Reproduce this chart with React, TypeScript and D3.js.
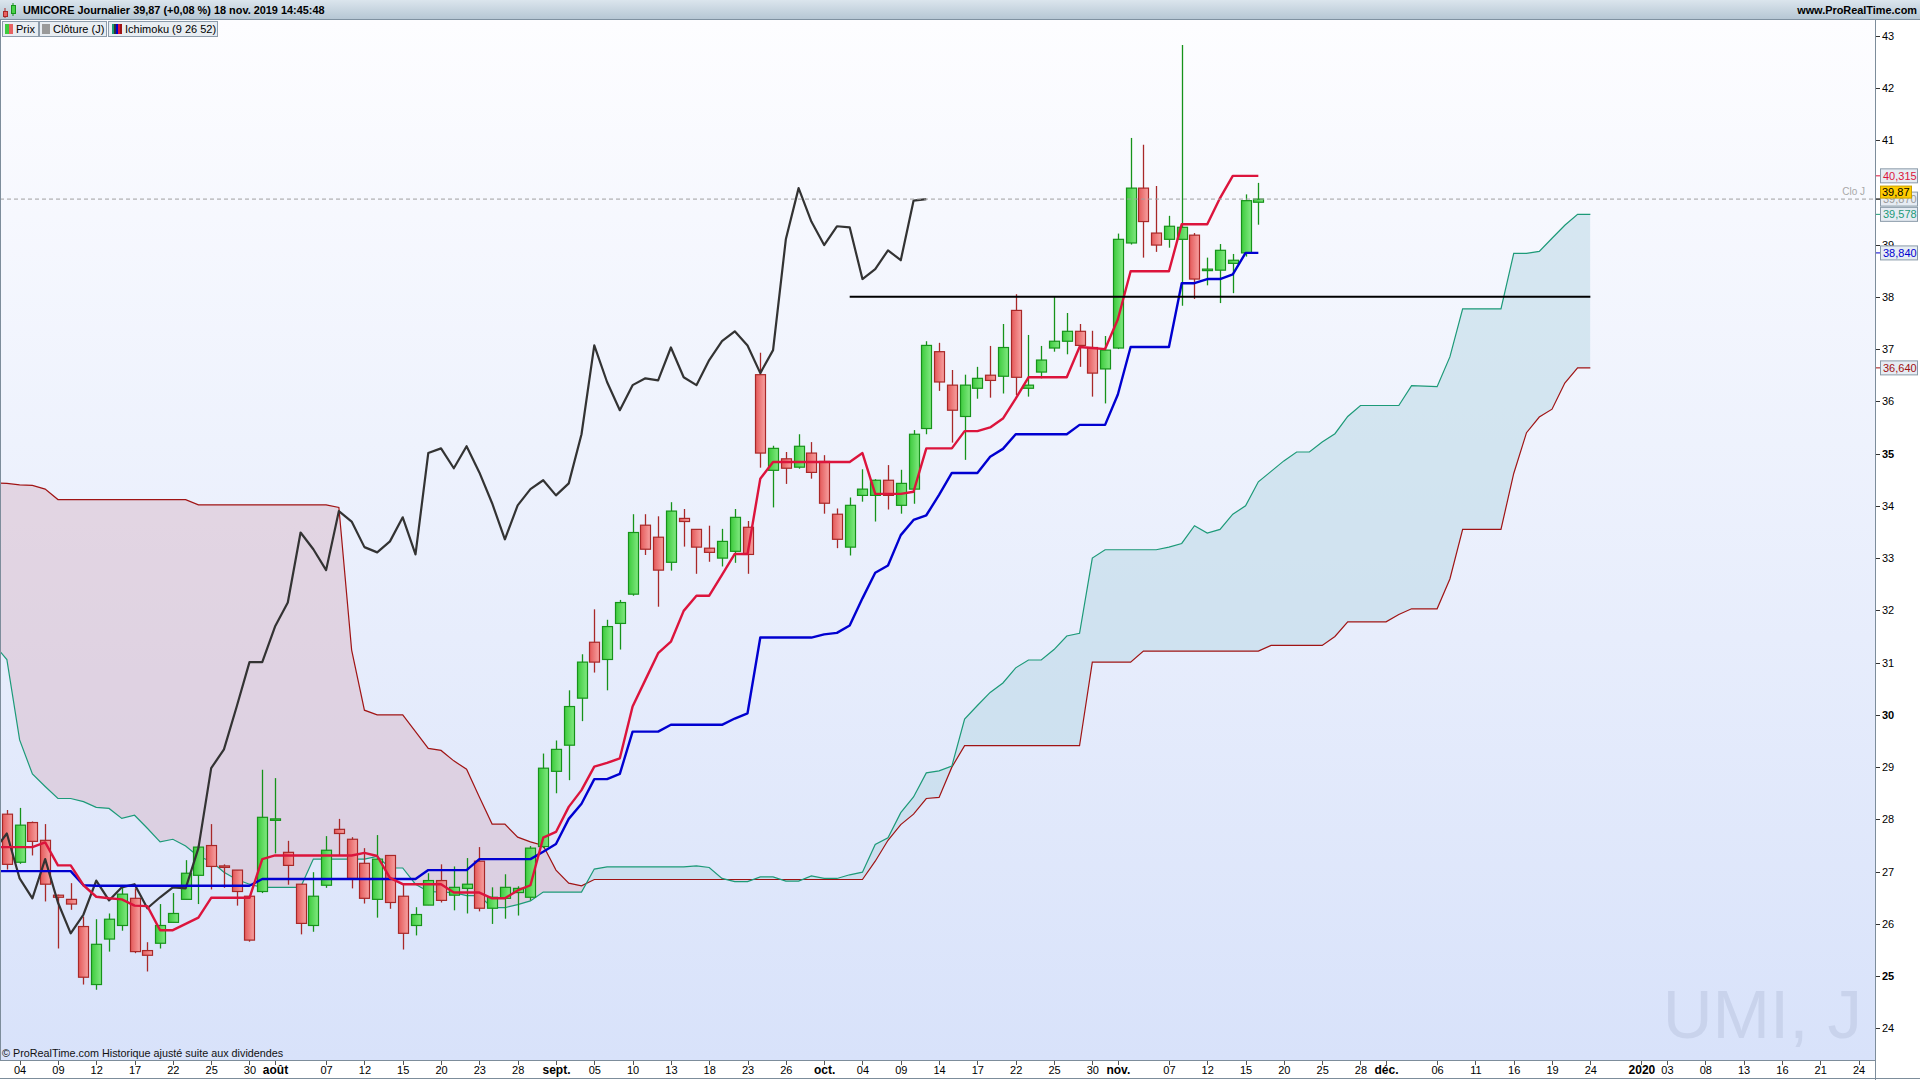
import * as d3 from 'd3';
import React from 'react';

// Cours journaliers UMICORE, du 3 juil. 2019 (barre 0) au 18 nov. 2019 (barre 98)
const opens = [
  28.1, 27.18, 27.94, 27.6, 26.55, 26.47, 25.95, 24.84, 25.71, 25.97,
  26.49, 25.49, 25.63, 26.03, 26.47, 26.93, 27.5, 27.11, 27.03, 26.53,
  26.62, 27.99, 27.37, 26.76, 25.97, 26.74, 27.81, 27.62, 27.16, 26.47,
  27.31, 26.53, 25.97, 26.36, 26.83, 26.55, 26.68, 27.2, 26.3, 26.49,
  26.6, 26.51, 27.48, 28.92, 29.42, 30.32, 31.39, 31.06, 31.75, 32.31,
  33.63, 33.4, 32.92, 33.76, 33.55, 33.19, 33.0, 33.13, 33.59, 36.51,
  34.68, 34.9, 34.74, 35.01, 34.85, 33.84, 33.21, 34.2, 34.2, 34.49,
  34.01, 34.32, 35.48, 36.95, 36.31, 35.71, 36.25, 36.5, 36.48, 37.74,
  36.25, 36.56, 37.02, 37.15, 37.34, 37.03, 36.62, 37.02, 39.03, 40.08,
  39.22, 39.1, 39.1, 39.18, 38.51, 38.51, 38.64, 38.84, 39.81,
];
const highs = [
  28.18, 28.22, 27.96, 27.91, 26.56, 26.78, 26.14, 26.09, 26.2, 26.71,
  26.68, 25.65, 26.38, 26.59, 27.22, 27.5, 27.91, 27.14, 27.03, 26.53,
  28.95, 28.79, 27.59, 26.76, 26.99, 27.68, 28.01, 27.66, 27.45, 27.7,
  27.31, 26.78, 26.32, 26.97, 27.14, 27.1, 27.26, 27.47, 26.7, 26.95,
  26.72, 27.49, 29.26, 29.51, 30.47, 31.16, 32.02, 31.82, 32.2, 33.84,
  33.84, 33.8, 34.07, 33.94, 33.55, 33.62, 33.56, 33.94, 33.71, 36.93,
  35.15, 35.03, 35.37, 35.22, 34.97, 33.95, 34.16, 34.7, 34.51, 34.78,
  34.69, 35.45, 37.15, 37.12, 36.6, 36.51, 36.66, 37.06, 37.48, 38.05,
  37.27, 37.06, 38.01, 37.69, 37.48, 37.35, 37.25, 39.21, 41.04, 40.91,
  40.12, 39.55, 42.82, 39.22, 38.75, 39.01, 38.82, 39.96, 40.18,
];
const lows = [
  27.04, 27.15, 27.31, 26.43, 25.53, 26.27, 24.84, 24.74, 25.47, 25.87,
  25.44, 25.09, 25.53, 26.03, 26.47, 26.38, 26.66, 26.69, 26.35, 25.66,
  26.59, 27.35, 26.75, 25.8, 25.85, 26.69, 27.31, 26.68, 26.39, 26.12,
  26.29, 25.51, 25.78, 26.36, 26.41, 26.26, 26.2, 26.24, 26.0, 26.1,
  26.16, 26.45, 27.45, 28.5, 28.75, 29.88, 30.81, 30.47, 31.25, 32.28,
  33.06, 32.07, 32.76, 33.22, 32.7, 32.93, 32.84, 32.91, 32.7, 34.73,
  33.97, 34.42, 34.71, 34.52, 33.85, 33.19, 33.05, 34.08, 33.7, 33.93,
  33.85, 34.04, 35.37, 36.2, 35.21, 34.88, 36.05, 36.07, 36.15, 36.12,
  36.09, 36.44, 36.95, 36.9, 36.66, 36.09, 35.96, 37.0, 39.0, 38.75,
  38.86, 38.94, 37.83, 37.96, 38.22, 37.88, 38.07, 38.77, 39.38,
];
const closes = [
  27.14, 27.89, 27.58, 26.76, 26.51, 26.38, 24.98, 25.61, 26.09, 26.57,
  25.47, 25.4, 25.97, 26.2, 26.97, 27.47, 27.1, 27.09, 26.62, 25.69,
  28.04, 28.01, 27.12, 26.01, 26.53, 27.41, 27.73, 26.87, 26.49, 27.24,
  26.41, 25.82, 26.18, 26.83, 26.45, 26.7, 26.76, 26.3, 26.51, 26.7,
  26.68, 27.45, 28.98, 29.34, 30.16, 31.01, 31.01, 31.69, 32.15, 33.49,
  33.17, 32.77, 33.9, 33.7, 33.21, 33.11, 33.32, 33.78, 33.07, 35.01,
  35.1, 34.72, 35.14, 34.64, 34.05, 33.36, 34.01, 34.32, 34.49, 34.2,
  34.43, 35.37, 37.07, 36.37, 35.83, 36.31, 36.44, 36.4, 37.03, 36.46,
  36.31, 36.79, 37.15, 37.34, 37.07, 36.54, 36.98, 39.1, 40.08, 39.44,
  38.99, 39.35, 39.33, 38.34, 38.53, 38.89, 38.7, 39.84, 39.87,
];

// Ichimoku (9 26 52) ; premier point = barre -1 (2 juil.)
const tenkan = [
  27.47, 27.47, 27.47, 27.47, 27.56, 27.12, 27.12, 26.74, 26.52, 26.49,
  26.47, 26.35, 26.34, 25.88, 25.88, 26.0, 26.12, 26.5, 26.5, 26.5,
  26.5, 27.24, 27.31, 27.31, 27.31, 27.31, 27.31, 27.31, 27.31, 27.36,
  27.3, 26.88, 26.76, 26.76, 26.76, 26.76, 26.6, 26.6, 26.6, 26.49,
  26.49, 26.64, 26.74, 27.65, 27.76, 28.24, 28.56, 29.01, 29.08, 29.17,
  30.16, 30.67, 31.18, 31.4, 31.99, 32.28, 32.28, 32.68, 33.08, 33.08,
  34.52, 34.84, 34.84, 34.84, 34.84, 34.84, 34.84, 34.84, 35.01, 34.23,
  34.23, 34.23, 34.27, 35.1, 35.1, 35.1, 35.43, 35.43, 35.5, 35.67,
  36.05, 36.46, 36.46, 36.46, 36.46, 37.04, 37.02, 37.0, 37.57, 38.49,
  38.49, 38.49, 38.49, 39.39, 39.39, 39.39, 39.89, 40.315, 40.315, 40.315,
];
const kijun = [
  27.01, 27.01, 27.01, 27.01, 27.01, 27.01, 27.01, 26.74, 26.73, 26.73,
  26.73, 26.73, 26.73, 26.73, 26.73, 26.73, 26.73, 26.73, 26.73, 26.73,
  26.73, 26.86, 26.86, 26.86, 26.86, 26.86, 26.86, 26.86, 26.86, 26.86,
  26.86, 26.86, 26.86, 26.86, 27.03, 27.03, 27.03, 27.03, 27.24, 27.24,
  27.24, 27.24, 27.24, 27.38, 27.53, 28.01, 28.3, 28.77, 28.77, 28.87,
  29.68, 29.68, 29.68, 29.81, 29.81, 29.81, 29.81, 29.81, 29.93, 30.03,
  31.48, 31.48, 31.48, 31.48, 31.48, 31.54, 31.57, 31.71, 32.23, 32.72,
  32.86, 33.44, 33.73, 33.82, 34.21, 34.63, 34.63, 34.63, 34.94, 35.09,
  35.37, 35.37, 35.37, 35.37, 35.37, 35.55, 35.55, 35.55, 36.13, 37.04,
  37.04, 37.04, 37.04, 38.26, 38.26, 38.34, 38.34, 38.43, 38.84, 38.84,
];
const senkouA = [
  31.35, 31.06, 29.52, 28.87, 28.63, 28.4, 28.4, 28.34, 28.23, 28.21,
  28.02, 28.08, 27.83, 27.57, 27.62, 27.49, 27.29, 27.2, 26.99, 26.85,
  26.76, 26.7, 26.7, 26.7, 26.7, 27.24, 27.24, 27.24, 27.24, 27.24,
  27.29, 27.07, 27.07, 26.76, 26.62, 26.61, 26.6, 26.54, 26.54, 26.31,
  26.31, 26.37, 26.44, 26.61, 26.61, 26.61, 26.61, 27.05, 27.09, 27.09,
  27.09, 27.09, 27.09, 27.09, 27.09, 27.11, 27.08, 26.87, 26.81, 26.81,
  26.9, 26.9, 26.82, 26.82, 26.92, 26.87, 26.87, 26.94, 26.99, 27.52,
  27.65, 28.13, 28.43, 28.89, 28.93, 29.02, 29.92, 30.18, 30.43, 30.61,
  30.9, 31.05, 31.05, 31.25, 31.51, 31.56, 33.0, 33.16, 33.16, 33.16,
  33.16, 33.16, 33.21, 33.28, 33.62, 33.48, 33.55, 33.84, 34.0, 34.46,
  34.66, 34.86, 35.03, 35.03, 35.22, 35.38, 35.71, 35.92, 35.92, 35.92,
  35.92, 36.3, 36.29, 36.28, 36.85, 37.77, 37.77, 37.77, 37.77, 38.83,
  38.83, 38.87, 39.12, 39.37, 39.58, 39.578,
];
const senkouB = [
  34.44, 34.43, 34.4, 34.39, 34.32, 34.12, 34.12, 34.12, 34.12, 34.12,
  34.12, 34.12, 34.12, 34.12, 34.12, 34.12, 34.02, 34.02, 34.02, 34.02,
  34.02, 34.02, 34.02, 34.02, 34.02, 34.02, 34.02, 33.97, 31.24, 30.09,
  30.0, 30.0, 30.0, 29.68, 29.36, 29.32, 29.12, 28.96, 28.43, 27.91,
  27.91, 27.66, 27.57, 27.5, 27.03, 26.78, 26.73, 26.85, 26.85, 26.85,
  26.85, 26.85, 26.85, 26.85, 26.85, 26.85, 26.85, 26.85, 26.85, 26.85,
  26.85, 26.85, 26.85, 26.85, 26.85, 26.85, 26.85, 26.85, 26.85, 27.2,
  27.6, 27.9, 28.1, 28.4, 28.42, 29.0, 29.41, 29.41, 29.41, 29.41,
  29.41, 29.41, 29.41, 29.41, 29.41, 29.41, 31.01, 31.01, 31.01, 31.01,
  31.22, 31.22, 31.22, 31.22, 31.22, 31.22, 31.22, 31.22, 31.22, 31.22,
  31.33, 31.33, 31.33, 31.33, 31.33, 31.5, 31.78, 31.78, 31.78, 31.78,
  31.92, 32.03, 32.03, 32.03, 32.6, 33.55, 33.55, 33.55, 33.55, 34.62,
  35.4, 35.7, 35.85, 36.35, 36.64, 36.64,
];

// niveau horizontal tracé à la main
const supportLevel = 38;
const supportFrom = '2019-10-03';
const supportTo = '2019-12-24';

const lastClose = 39.87;

// jours fériés de bourse (partie future de l'axe)
const holidays = ['2019-12-25', '2019-12-26'];

const tickDays = [
  '2019-07-04', '2019-07-09', '2019-07-12', '2019-07-17', '2019-07-22', '2019-07-25', '2019-07-30',
  '2019-08-01', '2019-08-07', '2019-08-12', '2019-08-15', '2019-08-20', '2019-08-23', '2019-08-28',
  '2019-09-02', '2019-09-05', '2019-09-10', '2019-09-13', '2019-09-18', '2019-09-23', '2019-09-26',
  '2019-10-01', '2019-10-04', '2019-10-09', '2019-10-14', '2019-10-17', '2019-10-22', '2019-10-25', '2019-10-30',
  '2019-11-01', '2019-11-07', '2019-11-12', '2019-11-15', '2019-11-20', '2019-11-25', '2019-11-28',
  '2019-12-02', '2019-12-06', '2019-12-11', '2019-12-16', '2019-12-19', '2019-12-24',
  '2020-01-01', '2020-01-03', '2020-01-08', '2020-01-13', '2020-01-16', '2020-01-21', '2020-01-24',
];
const monthNames = ['janv.', 'févr.', 'mars', 'avr.', 'mai', 'juin', 'juil.', 'août', 'sept.', 'oct.', 'nov.', 'déc.'];

const FONT = '"Liberation Sans", Arial, sans-serif';

const dayKey = d3.timeFormat('%Y-%m-%d');
// tradingDays[0] = 2 juil. = barre -1
const tradingDays = d3.timeDay
  .range(new Date(2019, 6, 2), new Date(2020, 1, 1))
  .filter((d) => d.getDay() % 6 !== 0 && !holidays.includes(dayKey(d)));
const barOf = (s: string) => tradingDays.findIndex((d) => dayKey(d) === s) - 1;

const fmtNum = (v: number, dec: number) => v.toFixed(dec).replace('.', ',');

const App: React.FC = () => {
  const W = 1920;
  const H = 1080;
  const plotRight = 1875;
  const plotTop = 20;
  const plotBottom = 1060;

  const x = d3.scaleLinear().domain([-0.537, 146.29]).range([0, plotRight]);
  const y = d3.scaleLinear().domain([23.396, 43.297]).range([plotBottom, plotTop]);

  const lineFrom = (start: number) =>
    d3
      .line<number>()
      .x((_, k) => x(k + start))
      .y((v) => y(v));

  const chikou = closes.slice(25); // clôture décalée de 26 barres, départ barre -1

  const cloud = d3
    .area<number>()
    .x((_, k) => x(k - 1))
    .y0((v) => y(v))
    .y1((_, k) => y(senkouB[k]));
  const aboveA = d3
    .area<number>()
    .x((_, k) => x(k - 1))
    .y0(plotTop)
    .y1((v) => y(v));
  const belowA = d3
    .area<number>()
    .x((_, k) => x(k - 1))
    .y0(plotBottom)
    .y1((v) => y(v));

  // 40 est masqué par les étiquettes de droite
  const priceTicks = y.ticks(20).filter((v) => v !== 40);

  const ticks = tickDays.map((s) => {
    const pos = tradingDays.findIndex((d) => dayKey(d) === s);
    const d = tradingDays[pos];
    const prev = tradingDays[pos - 1];
    const newMonth = prev.getMonth() !== d.getMonth();
    const label = newMonth
      ? d.getMonth() === 0
        ? String(d.getFullYear())
        : monthNames[d.getMonth()]
      : d3.timeFormat('%d')(d);
    return { bar: pos - 1, label, bold: newMonth };
  });

  const boxes = [
    { v: lastClose, text: '39,870', color: '#9a9a9a' },
    { v: senkouA[senkouA.length - 1], text: fmtNum(senkouA[senkouA.length - 1], 3), color: '#1c9a78' },
    { v: kijun[kijun.length - 1], text: fmtNum(kijun[kijun.length - 1], 3), color: '#0000d0' },
    { v: senkouB[senkouB.length - 1], text: fmtNum(senkouB[senkouB.length - 1], 3), color: '#a01010' },
    { v: tenkan[tenkan.length - 1], text: fmtNum(tenkan[tenkan.length - 1], 3), color: '#dc143c' },
  ];

  return (
    <svg
      width={W}
      height={H}
      style={{ position: 'absolute', left: 0, top: 0, display: 'block' }}
      fontFamily={FONT}
    >
      <defs>
        <linearGradient id="bg" x1="0" x2="0" y1="0" y2="1">
          <stop offset="0" stopColor="#fdfdff" />
          <stop offset="1" stopColor="#d8e2fa" />
        </linearGradient>
        <linearGradient id="hdr" x1="0" x2="0" y1="0" y2="1">
          <stop offset="0" stopColor="#dbe5ed" />
          <stop offset="1" stopColor="#b6c7d4" />
        </linearGradient>
        <linearGradient id="gUp" x1="0" x2="1" y1="0" y2="0">
          <stop offset="0" stopColor="#3dcb3d" />
          <stop offset="1" stopColor="#82e982" />
        </linearGradient>
        <linearGradient id="gDn" x1="0" x2="1" y1="0" y2="0">
          <stop offset="0" stopColor="#e45959" />
          <stop offset="1" stopColor="#f7a2a2" />
        </linearGradient>
        <clipPath id="clipAbove">
          <path d={aboveA(senkouA) || ''} />
        </clipPath>
        <clipPath id="clipBelow">
          <path d={belowA(senkouA) || ''} />
        </clipPath>
        <clipPath id="plotClip">
          <rect x={0} y={plotTop} width={plotRight} height={plotBottom - plotTop} />
        </clipPath>
      </defs>

      <rect x={0} y={0} width={W} height={H} fill="#ffffff" />
      <rect x={0} y={plotTop} width={plotRight} height={plotBottom - plotTop} fill="url(#bg)" />

      <g clipPath="url(#plotClip)">
        {/* nuage */}
        <path d={cloud(senkouA) || ''} fill="#d7b3c3" fillOpacity={0.45} clipPath="url(#clipAbove)" />
        <path d={cloud(senkouA) || ''} fill="#bcd8e6" fillOpacity={0.55} clipPath="url(#clipBelow)" />
        <path d={lineFrom(-1)(senkouB) || ''} fill="none" stroke="#a01414" strokeWidth={1.2} />
        <path d={lineFrom(-1)(senkouA) || ''} fill="none" stroke="#1c9a78" strokeWidth={1.2} />

        {/* chandeliers */}
        {closes.map((c, i) => {
          const o = opens[i];
          const up = c >= o;
          const cx = Math.round(x(i));
          const top = y(Math.max(o, c));
          const bot = y(Math.min(o, c));
          const edge = up ? '#16931a' : '#a82828';
          return (
            <g key={i}>
              <line x1={cx + 0.5} x2={cx + 0.5} y1={y(highs[i])} y2={y(lows[i])} stroke={edge} strokeWidth={1.3} />
              <rect
                x={cx - 4.5}
                y={top}
                width={10}
                height={Math.max(1.5, bot - top)}
                fill={up ? 'url(#gUp)' : 'url(#gDn)'}
                stroke={edge}
                strokeWidth={1.2}
              />
            </g>
          );
        })}

        <path d={lineFrom(-1)(chikou) || ''} fill="none" stroke="#333333" strokeWidth={2.2} strokeLinejoin="round" />
        <path d={lineFrom(-1)(kijun) || ''} fill="none" stroke="#0000d0" strokeWidth={2.4} strokeLinejoin="round" />
        <path d={lineFrom(-1)(tenkan) || ''} fill="none" stroke="#dc143c" strokeWidth={2.4} strokeLinejoin="round" />

        <line
          x1={x(barOf(supportFrom))}
          x2={x(barOf(supportTo))}
          y1={y(supportLevel)}
          y2={y(supportLevel)}
          stroke="#000"
          strokeWidth={2}
        />
        <line
          x1={0}
          x2={plotRight}
          y1={y(lastClose)}
          y2={y(lastClose)}
          stroke="#9f9f9f"
          strokeWidth={1}
          strokeDasharray="4 3"
        />
        <text x={plotRight - 10} y={y(lastClose) - 4} textAnchor="end" fontSize={10} fill="#a8a8a8">
          Clo J
        </text>

        <text x={1862} y={1038} textAnchor="end" fontSize={69} fill="#c9d3ec">
          UMI, J
        </text>
        <text x={2} y={1057} fontSize={10.8} fill="#111">
          © ProRealTime.com Historique ajusté suite aux dividendes
        </text>
      </g>

      {/* cadre */}
      <line x1={0.5} x2={0.5} y1={plotTop} y2={plotBottom} stroke="#7d8d9b" />
      <line x1={plotRight + 0.5} x2={plotRight + 0.5} y1={plotTop} y2={H} stroke="#7d8d9b" />
      <line x1={0} x2={plotRight} y1={plotBottom + 0.5} y2={plotBottom + 0.5} stroke="#7d8d9b" />
      <line x1={0} x2={W} y1={H - 1.5} y2={H - 1.5} stroke="#7d8d9b" />

      {/* axe des prix */}
      {priceTicks.map((v) => (
        <g key={v}>
          <line x1={plotRight + 1} x2={plotRight + 5} y1={Math.round(y(v)) + 0.5} y2={Math.round(y(v)) + 0.5} stroke="#333" />
          <text
            x={plotRight + 7}
            y={y(v) + 4}
            fontSize={11}
            fontWeight={v % 5 === 0 ? 'bold' : 'normal'}
            fill="#000"
          >
            {v}
          </text>
        </g>
      ))}
      {boxes.map((b) => (
        <g key={b.text}>
          <line x1={plotRight + 1} x2={plotRight + 5} y1={y(b.v)} y2={y(b.v)} stroke={b.color} />
          <rect x={plotRight + 5.5} y={y(b.v) - 7} width={37} height={14} fill="#e6ecf3" stroke="#8a9aa8" />
          <text x={plotRight + 8} y={y(b.v) + 4} fontSize={11} fill={b.color}>
            {b.text}
          </text>
        </g>
      ))}
      <line x1={plotRight + 1} x2={plotRight + 5} y1={y(lastClose)} y2={y(lastClose)} stroke="#000" />
      <rect x={plotRight + 5.5} y={y(lastClose) - 13} width={31} height={12} fill="#ffcc00" stroke="#c9a000" />
      <text x={plotRight + 7} y={y(lastClose) - 3} fontSize={11} fill="#000">
        {fmtNum(lastClose, 2)}
      </text>

      {/* axe du temps */}
      {ticks.map((t) => (
        <g key={t.bar}>
          <line
            x1={Math.round(x(t.bar)) + 0.5}
            x2={Math.round(x(t.bar)) + 0.5}
            y1={plotBottom + 1}
            y2={plotBottom + 5}
            stroke="#555"
          />
          <text
            x={x(t.bar) + 0.5}
            y={1074}
            textAnchor="middle"
            fontSize={t.bold ? 12 : 11}
            fontWeight={t.bold ? 'bold' : 'normal'}
            fill="#000"
          >
            {t.label}
          </text>
        </g>
      ))}

      {/* bandeau */}
      <rect x={0} y={0} width={W} height={19} fill="url(#hdr)" />
      <line x1={0} x2={W} y1={19.5} y2={19.5} stroke="#7f91a0" />
      <line x1={5} x2={5} y1={8} y2={18} stroke="#a82828" />
      <rect x={3.5} y={11.5} width={4} height={5} fill="#e76161" stroke="#a82828" />
      <line x1={13} x2={13} y1={3} y2={16} stroke="#16931a" />
      <rect x={11.5} y={5.5} width={4} height={8} fill="#49d149" stroke="#16931a" />
      <text x={23} y={14} fontSize={10.9} fontWeight="bold" fill="#000">
        UMICORE Journalier 39,87 (+0,08 %) 18 nov. 2019 14:45:48
      </text>
      <text x={W - 3} y={14} fontSize={10.9} fontWeight="bold" fill="#000" textAnchor="end">
        www.ProRealTime.com
      </text>

      {/* légende */}
      <g fontSize={11}>
        <rect x={2.5} y={21.5} width={36} height={15} fill="#e8edf2" stroke="#8d9cab" />
        <rect x={5} y={24} width={4} height={10} fill="#3dcb3d" />
        <rect x={9} y={24} width={4} height={10} fill="#e76161" />
        <text x={16} y={33}>Prix</text>

        <rect x={39.5} y={21.5} width={67} height={15} fill="#e8edf2" stroke="#8d9cab" />
        <rect x={42} y={24} width={8} height={10} fill="#9a9a9a" />
        <text x={53} y={33}>Clôture (J)</text>

        <rect x={108.5} y={21.5} width={109} height={15} fill="#e8edf2" stroke="#8d9cab" />
        <rect x={112} y={24} width={2} height={10} fill="#1c9a78" />
        <rect x={114} y={24} width={2} height={10} fill="#333" />
        <rect x={116} y={24} width={2} height={10} fill="#0000d0" />
        <rect x={118} y={24} width={2} height={10} fill="#dc143c" />
        <rect x={120} y={24} width={2} height={10} fill="#a01414" />
        <text x={125} y={33}>Ichimoku (9 26 52)</text>
      </g>
    </svg>
  );
};

export default App;
